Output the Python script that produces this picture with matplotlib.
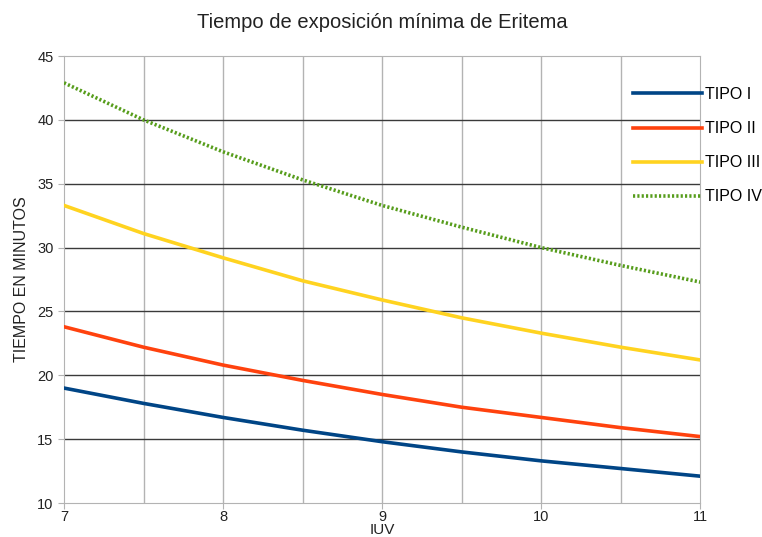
import numpy as np
import matplotlib.pyplot as plt

plt.rcParams['font.family'] = ['Liberation Sans', 'DejaVu Sans']

# Datos (IUV vs minutos)
iuv = [7, 7.5, 8, 8.5, 9, 9.5, 10, 10.5, 11]
tipo_1 = [19.0, 17.8, 16.7, 15.7, 14.8, 14.0, 13.3, 12.7, 12.1]
tipo_2 = [23.8, 22.2, 20.8, 19.6, 18.5, 17.5, 16.7, 15.9, 15.2]
tipo_3 = [33.3, 31.1, 29.2, 27.4, 25.9, 24.5, 23.3, 22.2, 21.2]
tipo_4 = [42.9, 40.0, 37.5, 35.3, 33.3, 31.6, 30.0, 28.6, 27.3]

x_ticks = [7, 8, 9, 10, 11]
y_ticks = [10, 15, 20, 25, 30, 35, 40, 45]

fig = plt.figure(figsize=(7.62, 5.37), dpi=100)
ax = fig.add_axes([0.084, 0.0633, 0.835, 0.8324])

# Grid: verticales claras, horizontales oscuras
for xv in np.arange(7.5, 11, 0.5):
    ax.axvline(xv, color="#b3b3b3", linewidth=1, zorder=1)
for yv in y_ticks[1:-1]:
    ax.axhline(yv, color="#3a3a3a", linewidth=1, zorder=1)

ax.plot(iuv, tipo_1, color="#004586", linewidth=2.6, label="TIPO I", zorder=3)
ax.plot(iuv, tipo_2, color="#ff420e", linewidth=2.6, label="TIPO II", zorder=3)
ax.plot(iuv, tipo_3, color="#ffd320", linewidth=2.6, label="TIPO III", zorder=3)
ax.plot(iuv, tipo_4, color="#579d1c", linewidth=2.6, linestyle=(0, (0.6, 0.6)),
        label="TIPO IV", zorder=3)

ax.set_xlim(7, 11)
ax.set_ylim(10, 45)
ax.set_xticks(x_ticks)
ax.set_yticks(y_ticks)
ax.tick_params(axis="both", labelsize=10.5, color="#b3b3b3", length=4,
               labelcolor="#222222")
ax.tick_params(axis="x", length=4, pad=1)
for s in ax.spines.values():
    s.set_color("#b3b3b3")

ax.set_title("Tiempo de exposición mínima de Eritema", fontsize=14.5, pad=20,
             color="#222222")
ax.set_ylabel("TIEMPO EN MINUTOS", fontsize=11.5, labelpad=6, color="#222222")
ax.set_xlabel("IUV", fontsize=11, labelpad=-1, color="#222222")

ax.legend(loc="upper left", bbox_to_anchor=(0.885, 0.945), frameon=False,
          fontsize=11.5, handlelength=4.3, handletextpad=0.2, labelspacing=1.2,
          borderaxespad=0)

fig.savefig("out.png", dpi=100)
